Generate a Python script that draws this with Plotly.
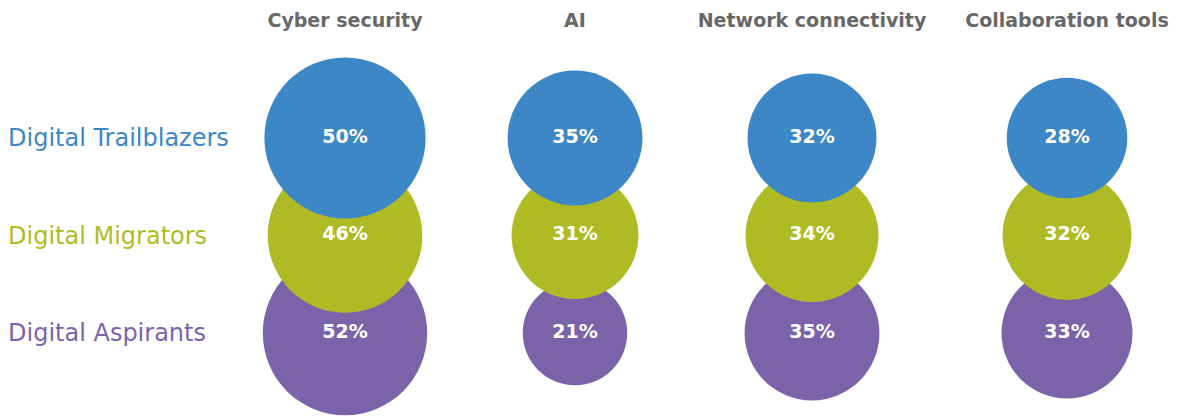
import plotly.graph_objects as go

categories = ["Cyber security", "AI", "Network connectivity", "Collaboration tools"]
groups = ["Digital Trailblazers", "Digital Migrators", "Digital Aspirants"]
trailblazers = [50, 35, 32, 28]
migrators = [46, 31, 34, 32]
aspirants = [52, 21, 35, 33]
group_values = {"Digital Trailblazers": trailblazers,
                "Digital Migrators": migrators,
                "Digital Aspirants": aspirants}
group_colors = {"Digital Trailblazers": "#3d87c6",
                "Digital Migrators": "#afbb24",
                "Digital Aspirants": "#7b63a9"}

# page body has an 8px margin; size the figure so it fits the 1181x416 window
OFF = 8
W, H = 1181 - OFF, 416 - OFF
col_centers_px = [345 - OFF, 575 - OFF, 812 - OFF, 1067 - OFF]
row_top_px, row_step = 138 - OFF, 97.5
half = 0.09
FONT = "DejaVu Sans"
TOP = 60

fig = go.Figure()
draw_order = ["Digital Aspirants", "Digital Migrators", "Digital Trailblazers"]
for ci, cat in enumerate(categories):
    xa = "x" if ci == 0 else f"x{ci+1}"
    for g in draw_order:
        v = group_values[g][ci]
        fig.add_trace(go.Scatter(
            x=[cat], y=[g], xaxis=xa, yaxis="y",
            mode="markers+text",
            text=[f"{v}%"], textposition="middle center",
            textfont=dict(family=FONT, size=19, color="white", weight=700),
            marker=dict(size=[v], sizemode="area", sizeref=2 / 22.8 ** 2,
                        color=group_colors[g], line=dict(width=0), opacity=1),
            cliponaxis=False, hoverinfo="skip", showlegend=False,
        ))

bottom_row_px = row_top_px + 2 * row_step
layout = dict(
    width=W, height=H,
    margin=dict(l=0, r=0, t=TOP, b=0, autoexpand=False),
    paper_bgcolor="white", plot_bgcolor="white",
    showlegend=False,
    yaxis=dict(type="category", categoryorder="array",
               categoryarray=groups[::-1],
               range=[-(H - bottom_row_px) / row_step, 2 + (row_top_px - TOP) / row_step],
               visible=False, fixedrange=True),
)
for ci, cat in enumerate(categories):
    c = col_centers_px[ci] / W
    key = "xaxis" if ci == 0 else f"xaxis{ci+1}"
    layout[key] = dict(
        type="category", categoryorder="array", categoryarray=[cat],
        domain=[c - half, c + half], range=[-0.5, 0.5],
        anchor="y", side="top", showgrid=False, zeroline=False,
        showline=False, ticks="", ticklabelstandoff=36, automargin=False,
        tickfont=dict(family=FONT, size=19, color="#686868", weight=700),
        fixedrange=True,
    )
fig.update_layout(**layout)

for g in groups:
    fig.add_annotation(
        x=-0.0017, xref="paper", xanchor="left",
        y=g, yref="y", yanchor="middle",
        text=g, showarrow=False,
        font=dict(family=FONT, size=24, color=group_colors[g]),
    )

fig.write_html("out.html")
